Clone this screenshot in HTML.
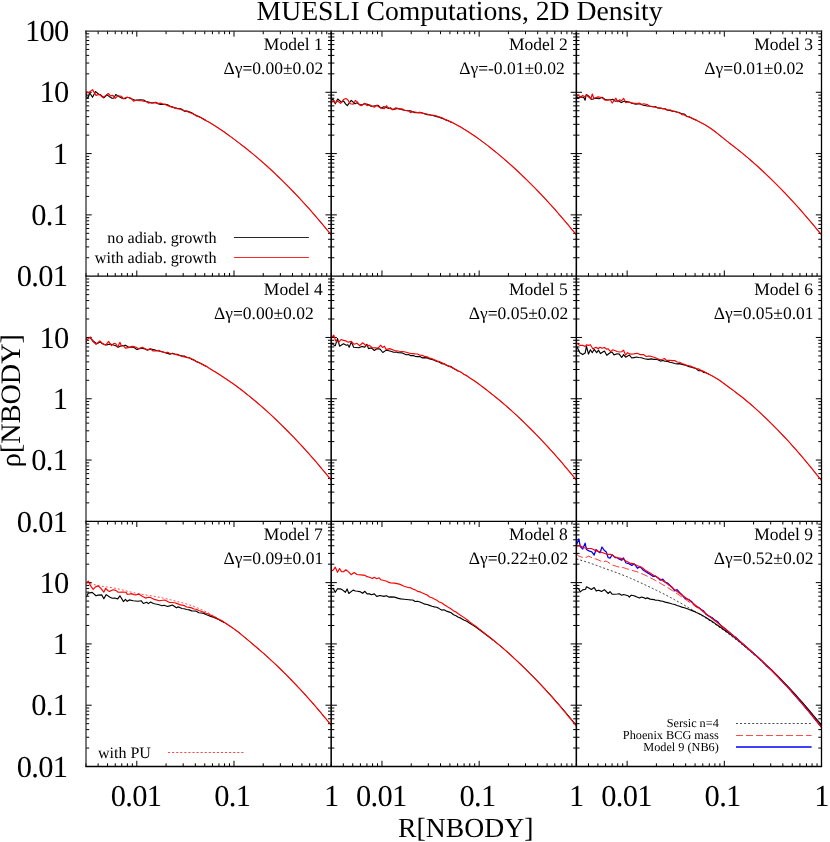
<!DOCTYPE html>
<html><head><meta charset="utf-8"><title>MUESLI Computations, 2D Density</title>
<style>html,body{margin:0;padding:0;background:#fff}body{width:830px;height:842px;overflow:hidden;font-family:"Liberation Serif",serif}svg{display:block;will-change:transform}text{text-rendering:geometricPrecision}</style></head>
<body>
<svg width="830" height="842" viewBox="0 0 830 842">
<rect width="830" height="842" fill="#fff"/>
<defs>
<clipPath id="c0"><rect x="86" y="31" width="245.17" height="245.17"/></clipPath>
<clipPath id="c1"><rect x="331.17" y="31" width="245.17" height="245.17"/></clipPath>
<clipPath id="c2"><rect x="576.33" y="31" width="245.17" height="245.17"/></clipPath>
<clipPath id="c3"><rect x="86" y="276.17" width="245.17" height="245.17"/></clipPath>
<clipPath id="c4"><rect x="331.17" y="276.17" width="245.17" height="245.17"/></clipPath>
<clipPath id="c5"><rect x="576.33" y="276.17" width="245.17" height="245.17"/></clipPath>
<clipPath id="c6"><rect x="86" y="521.33" width="245.17" height="245.17"/></clipPath>
<clipPath id="c7"><rect x="331.17" y="521.33" width="245.17" height="245.17"/></clipPath>
<clipPath id="c8"><rect x="576.33" y="521.33" width="245.17" height="245.17"/></clipPath>
</defs>
<path d="M86 276.17L86 272.97M86 31L86 34.2M98.14 276.17L98.14 272.97M98.14 31L98.14 34.2M107.56 276.17L107.56 272.97M107.56 31L107.56 34.2M115.25 276.17L115.25 272.97M115.25 31L115.25 34.2M121.76 276.17L121.76 272.97M121.76 31L121.76 34.2M127.39 276.17L127.39 272.97M127.39 31L127.39 34.2M132.37 276.17L132.37 272.97M132.37 31L132.37 34.2M136.81 276.17L136.81 270.47M136.81 31L136.81 36.7M166.07 276.17L166.07 272.97M166.07 31L166.07 34.2M183.18 276.17L183.18 272.97M183.18 31L183.18 34.2M195.32 276.17L195.32 272.97M195.32 31L195.32 34.2M204.74 276.17L204.74 272.97M204.74 31L204.74 34.2M212.43 276.17L212.43 272.97M212.43 31L212.43 34.2M218.94 276.17L218.94 272.97M218.94 31L218.94 34.2M224.57 276.17L224.57 272.97M224.57 31L224.57 34.2M229.54 276.17L229.54 272.97M229.54 31L229.54 34.2M233.99 276.17L233.99 270.47M233.99 31L233.99 36.7M263.24 276.17L263.24 272.97M263.24 31L263.24 34.2M280.35 276.17L280.35 272.97M280.35 31L280.35 34.2M292.5 276.17L292.5 272.97M292.5 31L292.5 34.2M301.91 276.17L301.91 272.97M301.91 31L301.91 34.2M309.61 276.17L309.61 272.97M309.61 31L309.61 34.2M316.11 276.17L316.11 272.97M316.11 31L316.11 34.2M321.75 276.17L321.75 272.97M321.75 31L321.75 34.2M326.72 276.17L326.72 272.97M326.72 31L326.72 34.2M86 257.72L89.2 257.72M331.17 257.72L327.97 257.72M86 246.92L89.2 246.92M331.17 246.92L327.97 246.92M86 239.27L89.2 239.27M331.17 239.27L327.97 239.27M86 233.33L89.2 233.33M331.17 233.33L327.97 233.33M86 228.47L89.2 228.47M331.17 228.47L327.97 228.47M86 224.37L89.2 224.37M331.17 224.37L327.97 224.37M86 220.81L89.2 220.81M331.17 220.81L327.97 220.81M86 217.68L89.2 217.68M331.17 217.68L327.97 217.68M86 214.88L91.7 214.88M331.17 214.88L325.47 214.88M86 196.42L89.2 196.42M331.17 196.42L327.97 196.42M86 185.63L89.2 185.63M331.17 185.63L327.97 185.63M86 177.97L89.2 177.97M331.17 177.97L327.97 177.97M86 172.03L89.2 172.03M331.17 172.03L327.97 172.03M86 167.18L89.2 167.18M331.17 167.18L327.97 167.18M86 163.08L89.2 163.08M331.17 163.08L327.97 163.08M86 159.52L89.2 159.52M331.17 159.52L327.97 159.52M86 156.39L89.2 156.39M331.17 156.39L327.97 156.39M86 153.58L91.7 153.58M331.17 153.58L325.47 153.58M86 135.13L89.2 135.13M331.17 135.13L327.97 135.13M86 124.34L89.2 124.34M331.17 124.34L327.97 124.34M86 116.68L89.2 116.68M331.17 116.68L327.97 116.68M86 110.74L89.2 110.74M331.17 110.74L327.97 110.74M86 105.89L89.2 105.89M331.17 105.89L327.97 105.89M86 101.79L89.2 101.79M331.17 101.79L327.97 101.79M86 98.23L89.2 98.23M331.17 98.23L327.97 98.23M86 95.1L89.2 95.1M331.17 95.1L327.97 95.1M86 92.29L91.7 92.29M331.17 92.29L325.47 92.29M86 73.84L89.2 73.84M331.17 73.84L327.97 73.84M86 63.05L89.2 63.05M331.17 63.05L327.97 63.05M86 55.39L89.2 55.39M331.17 55.39L327.97 55.39M86 49.45L89.2 49.45M331.17 49.45L327.97 49.45M86 44.6L89.2 44.6M331.17 44.6L327.97 44.6M86 40.49L89.2 40.49M331.17 40.49L327.97 40.49M86 36.94L89.2 36.94M331.17 36.94L327.97 36.94M86 33.8L89.2 33.8M331.17 33.8L327.97 33.8M331.17 276.17L331.17 272.97M331.17 31L331.17 34.2M343.31 276.17L343.31 272.97M343.31 31L343.31 34.2M352.73 276.17L352.73 272.97M352.73 31L352.73 34.2M360.42 276.17L360.42 272.97M360.42 31L360.42 34.2M366.93 276.17L366.93 272.97M366.93 31L366.93 34.2M372.56 276.17L372.56 272.97M372.56 31L372.56 34.2M377.53 276.17L377.53 272.97M377.53 31L377.53 34.2M381.98 276.17L381.98 270.47M381.98 31L381.98 36.7M411.23 276.17L411.23 272.97M411.23 31L411.23 34.2M428.34 276.17L428.34 272.97M428.34 31L428.34 34.2M440.49 276.17L440.49 272.97M440.49 31L440.49 34.2M449.9 276.17L449.9 272.97M449.9 31L449.9 34.2M457.6 276.17L457.6 272.97M457.6 31L457.6 34.2M464.1 276.17L464.1 272.97M464.1 31L464.1 34.2M469.74 276.17L469.74 272.97M469.74 31L469.74 34.2M474.71 276.17L474.71 272.97M474.71 31L474.71 34.2M479.16 276.17L479.16 270.47M479.16 31L479.16 36.7M508.41 276.17L508.41 272.97M508.41 31L508.41 34.2M525.52 276.17L525.52 272.97M525.52 31L525.52 34.2M537.66 276.17L537.66 272.97M537.66 31L537.66 34.2M547.08 276.17L547.08 272.97M547.08 31L547.08 34.2M554.77 276.17L554.77 272.97M554.77 31L554.77 34.2M561.28 276.17L561.28 272.97M561.28 31L561.28 34.2M566.92 276.17L566.92 272.97M566.92 31L566.92 34.2M571.89 276.17L571.89 272.97M571.89 31L571.89 34.2M331.17 257.72L334.37 257.72M576.33 257.72L573.13 257.72M331.17 246.92L334.37 246.92M576.33 246.92L573.13 246.92M331.17 239.27L334.37 239.27M576.33 239.27L573.13 239.27M331.17 233.33L334.37 233.33M576.33 233.33L573.13 233.33M331.17 228.47L334.37 228.47M576.33 228.47L573.13 228.47M331.17 224.37L334.37 224.37M576.33 224.37L573.13 224.37M331.17 220.81L334.37 220.81M576.33 220.81L573.13 220.81M331.17 217.68L334.37 217.68M576.33 217.68L573.13 217.68M331.17 214.88L336.87 214.88M576.33 214.88L570.63 214.88M331.17 196.42L334.37 196.42M576.33 196.42L573.13 196.42M331.17 185.63L334.37 185.63M576.33 185.63L573.13 185.63M331.17 177.97L334.37 177.97M576.33 177.97L573.13 177.97M331.17 172.03L334.37 172.03M576.33 172.03L573.13 172.03M331.17 167.18L334.37 167.18M576.33 167.18L573.13 167.18M331.17 163.08L334.37 163.08M576.33 163.08L573.13 163.08M331.17 159.52L334.37 159.52M576.33 159.52L573.13 159.52M331.17 156.39L334.37 156.39M576.33 156.39L573.13 156.39M331.17 153.58L336.87 153.58M576.33 153.58L570.63 153.58M331.17 135.13L334.37 135.13M576.33 135.13L573.13 135.13M331.17 124.34L334.37 124.34M576.33 124.34L573.13 124.34M331.17 116.68L334.37 116.68M576.33 116.68L573.13 116.68M331.17 110.74L334.37 110.74M576.33 110.74L573.13 110.74M331.17 105.89L334.37 105.89M576.33 105.89L573.13 105.89M331.17 101.79L334.37 101.79M576.33 101.79L573.13 101.79M331.17 98.23L334.37 98.23M576.33 98.23L573.13 98.23M331.17 95.1L334.37 95.1M576.33 95.1L573.13 95.1M331.17 92.29L336.87 92.29M576.33 92.29L570.63 92.29M331.17 73.84L334.37 73.84M576.33 73.84L573.13 73.84M331.17 63.05L334.37 63.05M576.33 63.05L573.13 63.05M331.17 55.39L334.37 55.39M576.33 55.39L573.13 55.39M331.17 49.45L334.37 49.45M576.33 49.45L573.13 49.45M331.17 44.6L334.37 44.6M576.33 44.6L573.13 44.6M331.17 40.49L334.37 40.49M576.33 40.49L573.13 40.49M331.17 36.94L334.37 36.94M576.33 36.94L573.13 36.94M331.17 33.8L334.37 33.8M576.33 33.8L573.13 33.8M576.33 276.17L576.33 272.97M576.33 31L576.33 34.2M588.47 276.17L588.47 272.97M588.47 31L588.47 34.2M597.89 276.17L597.89 272.97M597.89 31L597.89 34.2M605.59 276.17L605.59 272.97M605.59 31L605.59 34.2M612.09 276.17L612.09 272.97M612.09 31L612.09 34.2M617.73 276.17L617.73 272.97M617.73 31L617.73 34.2M622.7 276.17L622.7 272.97M622.7 31L622.7 34.2M627.15 276.17L627.15 270.47M627.15 31L627.15 36.7M656.4 276.17L656.4 272.97M656.4 31L656.4 34.2M673.51 276.17L673.51 272.97M673.51 31L673.51 34.2M685.65 276.17L685.65 272.97M685.65 31L685.65 34.2M695.07 276.17L695.07 272.97M695.07 31L695.07 34.2M702.76 276.17L702.76 272.97M702.76 31L702.76 34.2M709.27 276.17L709.27 272.97M709.27 31L709.27 34.2M714.91 276.17L714.91 272.97M714.91 31L714.91 34.2M719.88 276.17L719.88 272.97M719.88 31L719.88 34.2M724.32 276.17L724.32 270.47M724.32 31L724.32 36.7M753.58 276.17L753.58 272.97M753.58 31L753.58 34.2M770.69 276.17L770.69 272.97M770.69 31L770.69 34.2M782.83 276.17L782.83 272.97M782.83 31L782.83 34.2M792.25 276.17L792.25 272.97M792.25 31L792.25 34.2M799.94 276.17L799.94 272.97M799.94 31L799.94 34.2M806.45 276.17L806.45 272.97M806.45 31L806.45 34.2M812.08 276.17L812.08 272.97M812.08 31L812.08 34.2M817.05 276.17L817.05 272.97M817.05 31L817.05 34.2M576.33 257.72L579.53 257.72M821.5 257.72L818.3 257.72M576.33 246.92L579.53 246.92M821.5 246.92L818.3 246.92M576.33 239.27L579.53 239.27M821.5 239.27L818.3 239.27M576.33 233.33L579.53 233.33M821.5 233.33L818.3 233.33M576.33 228.47L579.53 228.47M821.5 228.47L818.3 228.47M576.33 224.37L579.53 224.37M821.5 224.37L818.3 224.37M576.33 220.81L579.53 220.81M821.5 220.81L818.3 220.81M576.33 217.68L579.53 217.68M821.5 217.68L818.3 217.68M576.33 214.88L582.03 214.88M821.5 214.88L815.8 214.88M576.33 196.42L579.53 196.42M821.5 196.42L818.3 196.42M576.33 185.63L579.53 185.63M821.5 185.63L818.3 185.63M576.33 177.97L579.53 177.97M821.5 177.97L818.3 177.97M576.33 172.03L579.53 172.03M821.5 172.03L818.3 172.03M576.33 167.18L579.53 167.18M821.5 167.18L818.3 167.18M576.33 163.08L579.53 163.08M821.5 163.08L818.3 163.08M576.33 159.52L579.53 159.52M821.5 159.52L818.3 159.52M576.33 156.39L579.53 156.39M821.5 156.39L818.3 156.39M576.33 153.58L582.03 153.58M821.5 153.58L815.8 153.58M576.33 135.13L579.53 135.13M821.5 135.13L818.3 135.13M576.33 124.34L579.53 124.34M821.5 124.34L818.3 124.34M576.33 116.68L579.53 116.68M821.5 116.68L818.3 116.68M576.33 110.74L579.53 110.74M821.5 110.74L818.3 110.74M576.33 105.89L579.53 105.89M821.5 105.89L818.3 105.89M576.33 101.79L579.53 101.79M821.5 101.79L818.3 101.79M576.33 98.23L579.53 98.23M821.5 98.23L818.3 98.23M576.33 95.1L579.53 95.1M821.5 95.1L818.3 95.1M576.33 92.29L582.03 92.29M821.5 92.29L815.8 92.29M576.33 73.84L579.53 73.84M821.5 73.84L818.3 73.84M576.33 63.05L579.53 63.05M821.5 63.05L818.3 63.05M576.33 55.39L579.53 55.39M821.5 55.39L818.3 55.39M576.33 49.45L579.53 49.45M821.5 49.45L818.3 49.45M576.33 44.6L579.53 44.6M821.5 44.6L818.3 44.6M576.33 40.49L579.53 40.49M821.5 40.49L818.3 40.49M576.33 36.94L579.53 36.94M821.5 36.94L818.3 36.94M576.33 33.8L579.53 33.8M821.5 33.8L818.3 33.8M86 502.88L89.2 502.88M331.17 502.88L327.97 502.88M86 492.09L89.2 492.09M331.17 492.09L327.97 492.09M86 484.43L89.2 484.43M331.17 484.43L327.97 484.43M86 478.49L89.2 478.49M331.17 478.49L327.97 478.49M86 473.64L89.2 473.64M331.17 473.64L327.97 473.64M86 469.54L89.2 469.54M331.17 469.54L327.97 469.54M86 465.98L89.2 465.98M331.17 465.98L327.97 465.98M86 462.85L89.2 462.85M331.17 462.85L327.97 462.85M86 460.04L91.7 460.04M331.17 460.04L325.47 460.04M86 441.59L89.2 441.59M331.17 441.59L327.97 441.59M86 430.8L89.2 430.8M331.17 430.8L327.97 430.8M86 423.14L89.2 423.14M331.17 423.14L327.97 423.14M86 417.2L89.2 417.2M331.17 417.2L327.97 417.2M86 412.35L89.2 412.35M331.17 412.35L327.97 412.35M86 408.24L89.2 408.24M331.17 408.24L327.97 408.24M86 404.69L89.2 404.69M331.17 404.69L327.97 404.69M86 401.55L89.2 401.55M331.17 401.55L327.97 401.55M86 398.75L91.7 398.75M331.17 398.75L325.47 398.75M86 380.3L89.2 380.3M331.17 380.3L327.97 380.3M86 369.51L89.2 369.51M331.17 369.51L327.97 369.51M86 361.85L89.2 361.85M331.17 361.85L327.97 361.85M86 355.91L89.2 355.91M331.17 355.91L327.97 355.91M86 351.06L89.2 351.06M331.17 351.06L327.97 351.06M86 346.95L89.2 346.95M331.17 346.95L327.97 346.95M86 343.4L89.2 343.4M331.17 343.4L327.97 343.4M86 340.26L89.2 340.26M331.17 340.26L327.97 340.26M86 337.46L91.7 337.46M331.17 337.46L325.47 337.46M86 319.01L89.2 319.01M331.17 319.01L327.97 319.01M86 308.21L89.2 308.21M331.17 308.21L327.97 308.21M86 300.56L89.2 300.56M331.17 300.56L327.97 300.56M86 294.62L89.2 294.62M331.17 294.62L327.97 294.62M86 289.76L89.2 289.76M331.17 289.76L327.97 289.76M86 285.66L89.2 285.66M331.17 285.66L327.97 285.66M86 282.11L89.2 282.11M331.17 282.11L327.97 282.11M86 278.97L89.2 278.97M331.17 278.97L327.97 278.97M331.17 502.88L334.37 502.88M576.33 502.88L573.13 502.88M331.17 492.09L334.37 492.09M576.33 492.09L573.13 492.09M331.17 484.43L334.37 484.43M576.33 484.43L573.13 484.43M331.17 478.49L334.37 478.49M576.33 478.49L573.13 478.49M331.17 473.64L334.37 473.64M576.33 473.64L573.13 473.64M331.17 469.54L334.37 469.54M576.33 469.54L573.13 469.54M331.17 465.98L334.37 465.98M576.33 465.98L573.13 465.98M331.17 462.85L334.37 462.85M576.33 462.85L573.13 462.85M331.17 460.04L336.87 460.04M576.33 460.04L570.63 460.04M331.17 441.59L334.37 441.59M576.33 441.59L573.13 441.59M331.17 430.8L334.37 430.8M576.33 430.8L573.13 430.8M331.17 423.14L334.37 423.14M576.33 423.14L573.13 423.14M331.17 417.2L334.37 417.2M576.33 417.2L573.13 417.2M331.17 412.35L334.37 412.35M576.33 412.35L573.13 412.35M331.17 408.24L334.37 408.24M576.33 408.24L573.13 408.24M331.17 404.69L334.37 404.69M576.33 404.69L573.13 404.69M331.17 401.55L334.37 401.55M576.33 401.55L573.13 401.55M331.17 398.75L336.87 398.75M576.33 398.75L570.63 398.75M331.17 380.3L334.37 380.3M576.33 380.3L573.13 380.3M331.17 369.51L334.37 369.51M576.33 369.51L573.13 369.51M331.17 361.85L334.37 361.85M576.33 361.85L573.13 361.85M331.17 355.91L334.37 355.91M576.33 355.91L573.13 355.91M331.17 351.06L334.37 351.06M576.33 351.06L573.13 351.06M331.17 346.95L334.37 346.95M576.33 346.95L573.13 346.95M331.17 343.4L334.37 343.4M576.33 343.4L573.13 343.4M331.17 340.26L334.37 340.26M576.33 340.26L573.13 340.26M331.17 337.46L336.87 337.46M576.33 337.46L570.63 337.46M331.17 319.01L334.37 319.01M576.33 319.01L573.13 319.01M331.17 308.21L334.37 308.21M576.33 308.21L573.13 308.21M331.17 300.56L334.37 300.56M576.33 300.56L573.13 300.56M331.17 294.62L334.37 294.62M576.33 294.62L573.13 294.62M331.17 289.76L334.37 289.76M576.33 289.76L573.13 289.76M331.17 285.66L334.37 285.66M576.33 285.66L573.13 285.66M331.17 282.11L334.37 282.11M576.33 282.11L573.13 282.11M331.17 278.97L334.37 278.97M576.33 278.97L573.13 278.97M576.33 502.88L579.53 502.88M821.5 502.88L818.3 502.88M576.33 492.09L579.53 492.09M821.5 492.09L818.3 492.09M576.33 484.43L579.53 484.43M821.5 484.43L818.3 484.43M576.33 478.49L579.53 478.49M821.5 478.49L818.3 478.49M576.33 473.64L579.53 473.64M821.5 473.64L818.3 473.64M576.33 469.54L579.53 469.54M821.5 469.54L818.3 469.54M576.33 465.98L579.53 465.98M821.5 465.98L818.3 465.98M576.33 462.85L579.53 462.85M821.5 462.85L818.3 462.85M576.33 460.04L582.03 460.04M821.5 460.04L815.8 460.04M576.33 441.59L579.53 441.59M821.5 441.59L818.3 441.59M576.33 430.8L579.53 430.8M821.5 430.8L818.3 430.8M576.33 423.14L579.53 423.14M821.5 423.14L818.3 423.14M576.33 417.2L579.53 417.2M821.5 417.2L818.3 417.2M576.33 412.35L579.53 412.35M821.5 412.35L818.3 412.35M576.33 408.24L579.53 408.24M821.5 408.24L818.3 408.24M576.33 404.69L579.53 404.69M821.5 404.69L818.3 404.69M576.33 401.55L579.53 401.55M821.5 401.55L818.3 401.55M576.33 398.75L582.03 398.75M821.5 398.75L815.8 398.75M576.33 380.3L579.53 380.3M821.5 380.3L818.3 380.3M576.33 369.51L579.53 369.51M821.5 369.51L818.3 369.51M576.33 361.85L579.53 361.85M821.5 361.85L818.3 361.85M576.33 355.91L579.53 355.91M821.5 355.91L818.3 355.91M576.33 351.06L579.53 351.06M821.5 351.06L818.3 351.06M576.33 346.95L579.53 346.95M821.5 346.95L818.3 346.95M576.33 343.4L579.53 343.4M821.5 343.4L818.3 343.4M576.33 340.26L579.53 340.26M821.5 340.26L818.3 340.26M576.33 337.46L582.03 337.46M821.5 337.46L815.8 337.46M576.33 319.01L579.53 319.01M821.5 319.01L818.3 319.01M576.33 308.21L579.53 308.21M821.5 308.21L818.3 308.21M576.33 300.56L579.53 300.56M821.5 300.56L818.3 300.56M576.33 294.62L579.53 294.62M821.5 294.62L818.3 294.62M576.33 289.76L579.53 289.76M821.5 289.76L818.3 289.76M576.33 285.66L579.53 285.66M821.5 285.66L818.3 285.66M576.33 282.11L579.53 282.11M821.5 282.11L818.3 282.11M576.33 278.97L579.53 278.97M821.5 278.97L818.3 278.97M86 766.5L86 763.3M86 521.33L86 524.53M98.14 766.5L98.14 763.3M98.14 521.33L98.14 524.53M107.56 766.5L107.56 763.3M107.56 521.33L107.56 524.53M115.25 766.5L115.25 763.3M115.25 521.33L115.25 524.53M121.76 766.5L121.76 763.3M121.76 521.33L121.76 524.53M127.39 766.5L127.39 763.3M127.39 521.33L127.39 524.53M132.37 766.5L132.37 763.3M132.37 521.33L132.37 524.53M136.81 766.5L136.81 760.8M136.81 521.33L136.81 527.03M166.07 766.5L166.07 763.3M166.07 521.33L166.07 524.53M183.18 766.5L183.18 763.3M183.18 521.33L183.18 524.53M195.32 766.5L195.32 763.3M195.32 521.33L195.32 524.53M204.74 766.5L204.74 763.3M204.74 521.33L204.74 524.53M212.43 766.5L212.43 763.3M212.43 521.33L212.43 524.53M218.94 766.5L218.94 763.3M218.94 521.33L218.94 524.53M224.57 766.5L224.57 763.3M224.57 521.33L224.57 524.53M229.54 766.5L229.54 763.3M229.54 521.33L229.54 524.53M233.99 766.5L233.99 760.8M233.99 521.33L233.99 527.03M263.24 766.5L263.24 763.3M263.24 521.33L263.24 524.53M280.35 766.5L280.35 763.3M280.35 521.33L280.35 524.53M292.5 766.5L292.5 763.3M292.5 521.33L292.5 524.53M301.91 766.5L301.91 763.3M301.91 521.33L301.91 524.53M309.61 766.5L309.61 763.3M309.61 521.33L309.61 524.53M316.11 766.5L316.11 763.3M316.11 521.33L316.11 524.53M321.75 766.5L321.75 763.3M321.75 521.33L321.75 524.53M326.72 766.5L326.72 763.3M326.72 521.33L326.72 524.53M86 748.05L89.2 748.05M331.17 748.05L327.97 748.05M86 737.26L89.2 737.26M331.17 737.26L327.97 737.26M86 729.6L89.2 729.6M331.17 729.6L327.97 729.6M86 723.66L89.2 723.66M331.17 723.66L327.97 723.66M86 718.81L89.2 718.81M331.17 718.81L327.97 718.81M86 714.7L89.2 714.7M331.17 714.7L327.97 714.7M86 711.15L89.2 711.15M331.17 711.15L327.97 711.15M86 708.01L89.2 708.01M331.17 708.01L327.97 708.01M86 705.21L91.7 705.21M331.17 705.21L325.47 705.21M86 686.76L89.2 686.76M331.17 686.76L327.97 686.76M86 675.96L89.2 675.96M331.17 675.96L327.97 675.96M86 668.31L89.2 668.31M331.17 668.31L327.97 668.31M86 662.37L89.2 662.37M331.17 662.37L327.97 662.37M86 657.51L89.2 657.51M331.17 657.51L327.97 657.51M86 653.41L89.2 653.41M331.17 653.41L327.97 653.41M86 649.86L89.2 649.86M331.17 649.86L327.97 649.86M86 646.72L89.2 646.72M331.17 646.72L327.97 646.72M86 643.92L91.7 643.92M331.17 643.92L325.47 643.92M86 625.47L89.2 625.47M331.17 625.47L327.97 625.47M86 614.67L89.2 614.67M331.17 614.67L327.97 614.67M86 607.02L89.2 607.02M331.17 607.02L327.97 607.02M86 601.08L89.2 601.08M331.17 601.08L327.97 601.08M86 596.22L89.2 596.22M331.17 596.22L327.97 596.22M86 592.12L89.2 592.12M331.17 592.12L327.97 592.12M86 588.56L89.2 588.56M331.17 588.56L327.97 588.56M86 585.43L89.2 585.43M331.17 585.43L327.97 585.43M86 582.62L91.7 582.62M331.17 582.62L325.47 582.62M86 564.17L89.2 564.17M331.17 564.17L327.97 564.17M86 553.38L89.2 553.38M331.17 553.38L327.97 553.38M86 545.72L89.2 545.72M331.17 545.72L327.97 545.72M86 539.78L89.2 539.78M331.17 539.78L327.97 539.78M86 534.93L89.2 534.93M331.17 534.93L327.97 534.93M86 530.83L89.2 530.83M331.17 530.83L327.97 530.83M86 527.27L89.2 527.27M331.17 527.27L327.97 527.27M86 524.14L89.2 524.14M331.17 524.14L327.97 524.14M331.17 766.5L331.17 763.3M331.17 521.33L331.17 524.53M343.31 766.5L343.31 763.3M343.31 521.33L343.31 524.53M352.73 766.5L352.73 763.3M352.73 521.33L352.73 524.53M360.42 766.5L360.42 763.3M360.42 521.33L360.42 524.53M366.93 766.5L366.93 763.3M366.93 521.33L366.93 524.53M372.56 766.5L372.56 763.3M372.56 521.33L372.56 524.53M377.53 766.5L377.53 763.3M377.53 521.33L377.53 524.53M381.98 766.5L381.98 760.8M381.98 521.33L381.98 527.03M411.23 766.5L411.23 763.3M411.23 521.33L411.23 524.53M428.34 766.5L428.34 763.3M428.34 521.33L428.34 524.53M440.49 766.5L440.49 763.3M440.49 521.33L440.49 524.53M449.9 766.5L449.9 763.3M449.9 521.33L449.9 524.53M457.6 766.5L457.6 763.3M457.6 521.33L457.6 524.53M464.1 766.5L464.1 763.3M464.1 521.33L464.1 524.53M469.74 766.5L469.74 763.3M469.74 521.33L469.74 524.53M474.71 766.5L474.71 763.3M474.71 521.33L474.71 524.53M479.16 766.5L479.16 760.8M479.16 521.33L479.16 527.03M508.41 766.5L508.41 763.3M508.41 521.33L508.41 524.53M525.52 766.5L525.52 763.3M525.52 521.33L525.52 524.53M537.66 766.5L537.66 763.3M537.66 521.33L537.66 524.53M547.08 766.5L547.08 763.3M547.08 521.33L547.08 524.53M554.77 766.5L554.77 763.3M554.77 521.33L554.77 524.53M561.28 766.5L561.28 763.3M561.28 521.33L561.28 524.53M566.92 766.5L566.92 763.3M566.92 521.33L566.92 524.53M571.89 766.5L571.89 763.3M571.89 521.33L571.89 524.53M331.17 748.05L334.37 748.05M576.33 748.05L573.13 748.05M331.17 737.26L334.37 737.26M576.33 737.26L573.13 737.26M331.17 729.6L334.37 729.6M576.33 729.6L573.13 729.6M331.17 723.66L334.37 723.66M576.33 723.66L573.13 723.66M331.17 718.81L334.37 718.81M576.33 718.81L573.13 718.81M331.17 714.7L334.37 714.7M576.33 714.7L573.13 714.7M331.17 711.15L334.37 711.15M576.33 711.15L573.13 711.15M331.17 708.01L334.37 708.01M576.33 708.01L573.13 708.01M331.17 705.21L336.87 705.21M576.33 705.21L570.63 705.21M331.17 686.76L334.37 686.76M576.33 686.76L573.13 686.76M331.17 675.96L334.37 675.96M576.33 675.96L573.13 675.96M331.17 668.31L334.37 668.31M576.33 668.31L573.13 668.31M331.17 662.37L334.37 662.37M576.33 662.37L573.13 662.37M331.17 657.51L334.37 657.51M576.33 657.51L573.13 657.51M331.17 653.41L334.37 653.41M576.33 653.41L573.13 653.41M331.17 649.86L334.37 649.86M576.33 649.86L573.13 649.86M331.17 646.72L334.37 646.72M576.33 646.72L573.13 646.72M331.17 643.92L336.87 643.92M576.33 643.92L570.63 643.92M331.17 625.47L334.37 625.47M576.33 625.47L573.13 625.47M331.17 614.67L334.37 614.67M576.33 614.67L573.13 614.67M331.17 607.02L334.37 607.02M576.33 607.02L573.13 607.02M331.17 601.08L334.37 601.08M576.33 601.08L573.13 601.08M331.17 596.22L334.37 596.22M576.33 596.22L573.13 596.22M331.17 592.12L334.37 592.12M576.33 592.12L573.13 592.12M331.17 588.56L334.37 588.56M576.33 588.56L573.13 588.56M331.17 585.43L334.37 585.43M576.33 585.43L573.13 585.43M331.17 582.62L336.87 582.62M576.33 582.62L570.63 582.62M331.17 564.17L334.37 564.17M576.33 564.17L573.13 564.17M331.17 553.38L334.37 553.38M576.33 553.38L573.13 553.38M331.17 545.72L334.37 545.72M576.33 545.72L573.13 545.72M331.17 539.78L334.37 539.78M576.33 539.78L573.13 539.78M331.17 534.93L334.37 534.93M576.33 534.93L573.13 534.93M331.17 530.83L334.37 530.83M576.33 530.83L573.13 530.83M331.17 527.27L334.37 527.27M576.33 527.27L573.13 527.27M331.17 524.14L334.37 524.14M576.33 524.14L573.13 524.14M576.33 766.5L576.33 763.3M576.33 521.33L576.33 524.53M588.47 766.5L588.47 763.3M588.47 521.33L588.47 524.53M597.89 766.5L597.89 763.3M597.89 521.33L597.89 524.53M605.59 766.5L605.59 763.3M605.59 521.33L605.59 524.53M612.09 766.5L612.09 763.3M612.09 521.33L612.09 524.53M617.73 766.5L617.73 763.3M617.73 521.33L617.73 524.53M622.7 766.5L622.7 763.3M622.7 521.33L622.7 524.53M627.15 766.5L627.15 760.8M627.15 521.33L627.15 527.03M656.4 766.5L656.4 763.3M656.4 521.33L656.4 524.53M673.51 766.5L673.51 763.3M673.51 521.33L673.51 524.53M685.65 766.5L685.65 763.3M685.65 521.33L685.65 524.53M695.07 766.5L695.07 763.3M695.07 521.33L695.07 524.53M702.76 766.5L702.76 763.3M702.76 521.33L702.76 524.53M709.27 766.5L709.27 763.3M709.27 521.33L709.27 524.53M714.91 766.5L714.91 763.3M714.91 521.33L714.91 524.53M719.88 766.5L719.88 763.3M719.88 521.33L719.88 524.53M724.32 766.5L724.32 760.8M724.32 521.33L724.32 527.03M753.58 766.5L753.58 763.3M753.58 521.33L753.58 524.53M770.69 766.5L770.69 763.3M770.69 521.33L770.69 524.53M782.83 766.5L782.83 763.3M782.83 521.33L782.83 524.53M792.25 766.5L792.25 763.3M792.25 521.33L792.25 524.53M799.94 766.5L799.94 763.3M799.94 521.33L799.94 524.53M806.45 766.5L806.45 763.3M806.45 521.33L806.45 524.53M812.08 766.5L812.08 763.3M812.08 521.33L812.08 524.53M817.05 766.5L817.05 763.3M817.05 521.33L817.05 524.53M576.33 748.05L579.53 748.05M821.5 748.05L818.3 748.05M576.33 737.26L579.53 737.26M821.5 737.26L818.3 737.26M576.33 729.6L579.53 729.6M821.5 729.6L818.3 729.6M576.33 723.66L579.53 723.66M821.5 723.66L818.3 723.66M576.33 718.81L579.53 718.81M821.5 718.81L818.3 718.81M576.33 714.7L579.53 714.7M821.5 714.7L818.3 714.7M576.33 711.15L579.53 711.15M821.5 711.15L818.3 711.15M576.33 708.01L579.53 708.01M821.5 708.01L818.3 708.01M576.33 705.21L582.03 705.21M821.5 705.21L815.8 705.21M576.33 686.76L579.53 686.76M821.5 686.76L818.3 686.76M576.33 675.96L579.53 675.96M821.5 675.96L818.3 675.96M576.33 668.31L579.53 668.31M821.5 668.31L818.3 668.31M576.33 662.37L579.53 662.37M821.5 662.37L818.3 662.37M576.33 657.51L579.53 657.51M821.5 657.51L818.3 657.51M576.33 653.41L579.53 653.41M821.5 653.41L818.3 653.41M576.33 649.86L579.53 649.86M821.5 649.86L818.3 649.86M576.33 646.72L579.53 646.72M821.5 646.72L818.3 646.72M576.33 643.92L582.03 643.92M821.5 643.92L815.8 643.92M576.33 625.47L579.53 625.47M821.5 625.47L818.3 625.47M576.33 614.67L579.53 614.67M821.5 614.67L818.3 614.67M576.33 607.02L579.53 607.02M821.5 607.02L818.3 607.02M576.33 601.08L579.53 601.08M821.5 601.08L818.3 601.08M576.33 596.22L579.53 596.22M821.5 596.22L818.3 596.22M576.33 592.12L579.53 592.12M821.5 592.12L818.3 592.12M576.33 588.56L579.53 588.56M821.5 588.56L818.3 588.56M576.33 585.43L579.53 585.43M821.5 585.43L818.3 585.43M576.33 582.62L582.03 582.62M821.5 582.62L815.8 582.62M576.33 564.17L579.53 564.17M821.5 564.17L818.3 564.17M576.33 553.38L579.53 553.38M821.5 553.38L818.3 553.38M576.33 545.72L579.53 545.72M821.5 545.72L818.3 545.72M576.33 539.78L579.53 539.78M821.5 539.78L818.3 539.78M576.33 534.93L579.53 534.93M821.5 534.93L818.3 534.93M576.33 530.83L579.53 530.83M821.5 530.83L818.3 530.83M576.33 527.27L579.53 527.27M821.5 527.27L818.3 527.27M576.33 524.14L579.53 524.14M821.5 524.14L818.3 524.14" stroke="#000" stroke-width="1" fill="none"/>
<g clip-path="url(#c0)">
<path d="M86.1 91.6L86.9 98.3L88 97.8L89.8 93L92.5 97.3L95.6 91.6L98.5 94L100.4 94.76L103.8 97.8L107.1 94.9L110 97.09L112 98.3L113.9 98.1L115.8 94.5L119.7 96.9L122 98.21L125 98.8L127.4 97.3L129.2 97.75L131.2 98.8L135.1 100.2L139.9 99.8L143.6 100.02L145.7 101.2L148.4 101.95L151.5 102.9L153.2 102.91L155.3 102.4L158.2 103.6L160.4 104.45L164 104.4L165.2 104.2L167.6 104.84L170 106.33L172.4 106.86L174.8 107.93L177.2 108.37L179.6 108.65L182 109.35L184.4 111.26L186.8 111.09L189.2 111.88L191.6 112.79L194 114.31L196.4 115.45L198.8 116.51L201.2 117.8L203.6 119.14L206 120.53" fill="none" stroke="#000" stroke-width="1.15" stroke-linejoin="round"/>
<path d="M206 120.53L208.4 121.95L210.8 123.25L213.2 124.52L215.6 126.28L218.6 128.06L221.6 130.17L224.6 132.19L227.6 134.42L230.6 136.58L233.6 138.85L236.6 141.2L239.6 143.38L242.6 145.71L245.6 148.02L248.6 150.43L251.6 152.88L254.6 155.35L257.6 157.89L260.6 160.46L263.6 163.08L266.6 165.77L269.6 168.48L272.6 171.27L275.6 174.09L278.6 176.97L281.6 179.89L284.6 182.86L287.6 185.86L290.6 188.92L293.6 192.01L296.6 195.16L299.6 198.35L302.6 201.59L305.6 204.88L308.6 208.22L311.6 211.61L314.6 215.06L317.6 218.55L320.6 222.09L323.6 225.68L326.6 229.29L329.6 232.9L331.3 234.95" fill="none" stroke="#000" stroke-width="0.55" stroke-linejoin="round"/>
<path d="M86.1 91.1L88.3 93L92.5 89.6L96 95.4L98.5 94.5L100.4 95.11L102.8 97.5L105.2 95.87L108.3 93.5L110.5 95.9L112.9 95.4L115.3 98.3L117.7 95.9L119.6 96L121.6 96.4L123.5 98.8L126.4 97.3L129.2 97.64L131.2 98.3L133.6 101.2L136.5 100L138.8 100.78L141.8 100.7L143.6 101.14L146 101.52L148.4 103.11L150.5 102.7L153.2 102.76L155.6 102.65L158.2 103.6L160.4 103.17L164 104.3L165.2 104.42L167.6 105.62L170 106.35L172.4 107.1L174.8 108.03L177.2 108.64L179.6 108.93L182 109.97L184.4 110.54L186.8 110.99L189.2 112.48L191.6 113.23L194 114.23L196.4 115.97L198.8 116.79L201.2 117.73L203.6 119.09L206 120.79L208.4 121.77L210.8 123.32L213.2 124.77L215.6 126.27L218.6 128.22L221.6 130.16L224.6 132.25L227.6 134.41L230.6 136.6L233.6 138.88L236.6 141.15L239.6 143.36L242.6 145.71L245.6 148.03L248.6 150.43L251.6 152.87L254.6 155.36L257.6 157.88L260.6 160.44L263.6 163.1L266.6 165.76L269.6 168.48L272.6 171.27L275.6 174.09L278.6 176.96L281.6 179.89L284.6 182.86L287.6 185.86L290.6 188.92L293.6 192.02L296.6 195.16L299.6 198.35L302.6 201.59L305.6 204.88L308.6 208.22L311.6 211.61L314.6 215.06L317.6 218.55L320.6 222.1L323.6 225.68L326.6 229.29L329.6 232.9L331.3 234.95" fill="none" stroke="#f00" stroke-width="1.15" stroke-linejoin="round"/>
</g>
<g clip-path="url(#c1)">
<path d="M331.4 100.2L332.9 99L334.3 101.4L335.3 103.8L337.7 99L341.5 102.3L343.5 100.9L345.57 103.9L347.3 105.7L351.2 100.4L355 103.8L357 102.8L359.8 104.8L362.3 104.8L364.7 103.8L367.6 104.3L370.9 106.2L373.3 106L375.3 105.7L378.2 105.4L381 108.1L383.9 106.7L386.8 107.7L388.77 108.46L390.7 107.9L392.6 109.6L396.5 108.6L398.37 108.47L400.3 109.1L404.2 110.3L409 110.9L410.37 110.76L412.77 111.75L415.17 112.76L417.57 112.6L419.97 112.37L422.37 112.98L424.77 113.74L427.17 114.63L429.57 114.78L431.97 115.21L434.37 115.88L436.77 116.69L439.17 117.11L441.57 118.13L443.97 119.05L446.37 120.26L448.77 120.92L451.17 122.19" fill="none" stroke="#000" stroke-width="1.15" stroke-linejoin="round"/>
<path d="M451.17 122.19L453.57 123.07L455.97 124.57L458.37 125.81L460.77 127.13L463.77 128.98L466.77 130.91L469.77 132.76L472.77 134.82L475.77 136.88L478.77 138.98L481.77 141.16L484.77 143.32L487.77 145.67L490.77 148L493.77 150.43L496.77 152.87L499.77 155.36L502.77 157.89L505.77 160.46L508.77 163.09L511.77 165.76L514.77 168.5L517.77 171.26L520.77 174.09L523.77 176.96L526.77 179.88L529.77 182.85L532.77 185.87L535.77 188.92L538.77 192.02L541.77 195.16L544.77 198.35L547.77 201.59L550.77 204.88L553.77 208.22L556.77 211.61L559.77 215.05L562.77 218.55L565.77 222.09L568.77 225.68L571.77 229.29L574.77 232.9L576.47 234.95" fill="none" stroke="#000" stroke-width="0.55" stroke-linejoin="round"/>
<path d="M331.4 102.3L333.3 100.4L335.3 102.8L337.2 100.9L340.6 103.3L343.5 99.5L345.9 98.5L347.8 99.9L350.2 103.8L353.1 104.3L355.5 100.4L357.4 101.9L358.9 104.3L361.3 105.7L364.7 103.3L367.1 105.7L369.5 104.8L371.4 105.7L374.3 107.2L376.7 105.2L379.17 107.13L381 108.1L384.4 108.6L386.3 105.7L388.8 108.1L391.17 108.86L393.1 109.6L396 107.7L399.4 109.1L402.3 108.9L405.1 110.5L409 110.7L410.37 112.65L412.77 111.7L415.17 112L417.57 112.55L419.97 112.56L422.37 112.93L424.77 113.95L427.17 114.03L429.57 115.09L431.97 115.24L434.37 115.23L436.77 116.09L439.17 117.03L441.57 117.52L443.97 118.95L446.37 119.84L448.77 121.11L451.17 121.88L453.57 123.18L455.97 124.54L458.37 125.87L460.77 127.07L463.77 129.1L466.77 130.81L469.77 132.85L472.77 134.75L475.77 136.8L478.77 138.88L481.77 141.1L484.77 143.42L487.77 145.64L490.77 148.05L493.77 150.44L496.77 152.86L499.77 155.37L502.77 157.9L505.77 160.46L508.77 163.08L511.77 165.77L514.77 168.49L517.77 171.28L520.77 174.09L523.77 176.96L526.77 179.89L529.77 182.85L532.77 185.87L535.77 188.92L538.77 192.01L541.77 195.16L544.77 198.35L547.77 201.59L550.77 204.88L553.77 208.22L556.77 211.61L559.77 215.05L562.77 218.55L565.77 222.1L568.77 225.68L571.77 229.28L574.77 232.9L576.47 234.95" fill="none" stroke="#f00" stroke-width="1.15" stroke-linejoin="round"/>
</g>
<g clip-path="url(#c2)">
<path d="M576.4 95.9L577.9 98.3L579.8 96.9L583.6 97.3L585.1 100.2L586.3 94.5L588.5 95.9L591.3 99.3L593.13 99.07L595.2 98.3L599.1 98.8L602 97.3L604.8 99.3L607.7 100L610.6 99.8L612.6 99.3L615.4 101.2L618.3 100.7L621.2 102.6L624.1 101.2L628 101.7L631.8 103.1L633.93 103.66L635.7 104.1L639.5 103.6L643.4 105.2L647.3 106L651.1 106.2L654 107L655.53 106.65L657.93 107.98L660.33 108.11L662.73 108.59L665.13 109.01L667.53 110.17L669.93 110.48L672.33 111.26L674.73 111.34L677.13 112.05L679.53 112.67L681.93 113.89L684.33 113.97L686.73 116.41L689.13 116.96L691.53 118L693.93 119.24L696.33 120.13" fill="none" stroke="#000" stroke-width="1.15" stroke-linejoin="round"/>
<path d="M696.33 120.13L698.73 121.42L701.13 122.73L703.53 123.76L705.93 125.51L708.93 127.23L711.93 129.31L714.93 131.43L717.93 133.82L720.93 136.35L723.93 138.68L726.93 141.07L729.93 143.44L732.93 145.79L735.93 148.04L738.93 150.49L741.93 152.89L744.93 155.37L747.93 157.88L750.93 160.47L753.93 163.1L756.93 165.76L759.93 168.48L762.93 171.26L765.93 174.09L768.93 176.97L771.93 179.89L774.93 182.85L777.93 185.87L780.93 188.91L783.93 192.01L786.93 195.16L789.93 198.35L792.93 201.59L795.93 204.88L798.93 208.22L801.93 211.61L804.93 215.05L807.93 218.55L810.93 222.09L813.93 225.68L816.93 229.29L819.93 232.9L821.63 234.95" fill="none" stroke="#000" stroke-width="0.55" stroke-linejoin="round"/>
<path d="M576.4 95.4L578.3 95.2L580.3 97.3L582.7 95.4L584.6 96.9L586.5 94.9L588.33 96.83L590.9 98.8L592.3 94L593.8 98.3L595.53 97.9L598.1 96.9L600.33 97.2L602.9 98.3L605.13 100.19L607.7 100.2L610.1 99.3L612.1 103.1L614 100.7L615.9 98.1L617.4 101.7L619.8 99.8L621.7 100.7L623.6 98.3L625.6 102.6L628.9 102L632.8 103.1L636.7 103.6L639.5 103.1L641.5 104.6L643.53 103.8L647.3 104.6L650.1 106.5L654 106.8L655.53 107.05L657.93 107.87L660.33 108.19L662.73 108.65L665.13 108.45L667.53 110.25L669.93 109.76L672.33 110.7L674.73 111.45L677.13 112.23L679.53 112.87L681.93 114.59L684.33 114.95L686.73 116.21L689.13 116.52L691.53 118.11L693.93 119.02L696.33 120.27L698.73 121.41L701.13 122.68L703.53 123.93L705.93 125.34L708.93 127.23L711.93 129.28L714.93 131.5L717.93 133.83L720.93 136.3L723.93 138.67L726.93 141.15L729.93 143.45L732.93 145.79L735.93 148.09L738.93 150.44L741.93 152.86L744.93 155.35L747.93 157.88L750.93 160.46L753.93 163.08L756.93 165.77L759.93 168.47L762.93 171.27L765.93 174.09L768.93 176.97L771.93 179.88L774.93 182.86L777.93 185.86L780.93 188.92L783.93 192.02L786.93 195.16L789.93 198.35L792.93 201.59L795.93 204.88L798.93 208.22L801.93 211.61L804.93 215.05L807.93 218.55L810.93 222.09L813.93 225.68L816.93 229.28L819.93 232.9L821.63 234.95" fill="none" stroke="#f00" stroke-width="1.15" stroke-linejoin="round"/>
</g>
<g clip-path="url(#c3)">
<path d="M86.1 342.8L86.9 337.5L89.8 337.5L92.7 340.4L96.5 343.8L100.4 341.9L102.3 343.8L106.2 345L110 344.1L112.9 344.8L115.8 345.7L118.2 347.2L121.1 345.7L125.4 345.2L128.8 347.2L133.2 347L137 349.6L138.8 348.64L140.9 348.1L143.8 348.6L147.1 350.1L150.5 349.1L154.4 349.9L157.3 350.8L161.1 351.5L164 352.3L165.2 352.71L167.6 353.39L170 354.16L172.4 353.19L174.8 353.96L177.2 354.4L179.6 355.21L182 355.88L184.4 356.09L186.8 357.47L189.2 357.64L191.6 359.35L194 359.87L196.4 361.39L198.8 362.6L201.2 363.7L203.6 364.9L206 366.21" fill="none" stroke="#000" stroke-width="1.15" stroke-linejoin="round"/>
<path d="M206 366.21L208.4 367.54L210.8 369.32L213.2 370.64L215.6 372.25L218.6 374.02L221.6 375.98L224.6 377.92L227.6 379.96L230.6 381.96L233.6 384.16L236.6 386.31L239.6 388.56L242.6 390.86L245.6 393.16L248.6 395.54L251.6 398.04L254.6 400.52L257.6 403.04L260.6 405.62L263.6 408.26L266.6 410.94L269.6 413.66L272.6 416.43L275.6 419.26L278.6 422.14L281.6 425.05L284.6 428.02L287.6 431.03L290.6 434.08L293.6 437.18L296.6 440.33L299.6 443.51L302.6 446.76L305.6 450.04L308.6 453.39L311.6 456.77L314.6 460.22L317.6 463.72L320.6 467.26L323.6 470.84L326.6 474.45L329.6 478.07L331.3 480.12" fill="none" stroke="#000" stroke-width="0.55" stroke-linejoin="round"/>
<path d="M86.1 340.9L88.4 338.69L90.3 337L92.7 341.4L96 344.3L98 342.48L99.9 340.9L102.3 343.3L105.7 345.2L108.6 341.4L111.5 345.7L113.9 343.3L115.8 343.8L117.7 347.2L119.9 342.3L121.6 346.2L123.5 345.7L125.4 348.1L129.3 347.4L132.2 346.2L134 346.62L136 347.2L138.9 349.1L142.3 347.2L146.7 349.6L148.4 349.5L150.5 348.6L152.9 351L156.3 351L158.7 350.3L161.1 351.5L164 352.4L165.2 352.51L167.6 352.27L170 353.51L172.4 353.7L174.8 354.2L177.2 354.85L179.6 355.45L182 356.42L184.4 356.88L186.8 357.4L189.2 357.91L191.6 358.75L194 360.26L196.4 361.68L198.8 362.5L201.2 363.7L203.6 365.11L206 366.1L208.4 367.66L210.8 369.18L213.2 370.66L215.6 372.04L218.6 374.02L221.6 375.97L224.6 378L227.6 379.92L230.6 382.05L233.6 384.07L236.6 386.21L239.6 388.5L242.6 390.8L245.6 393.2L248.6 395.59L251.6 398.01L254.6 400.53L257.6 403.04L260.6 405.63L263.6 408.25L266.6 410.93L269.6 413.66L272.6 416.43L275.6 419.26L278.6 422.14L281.6 425.06L284.6 428.02L287.6 431.03L290.6 434.08L293.6 437.18L296.6 440.32L299.6 443.52L302.6 446.75L305.6 450.04L308.6 453.39L311.6 456.78L314.6 460.22L317.6 463.72L320.6 467.26L323.6 470.84L326.6 474.45L329.6 478.07L331.3 480.12" fill="none" stroke="#f00" stroke-width="1.15" stroke-linejoin="round"/>
</g>
<g clip-path="url(#c4)">
<path d="M331.4 342.3L333.3 344.8L335.3 345.7L337.5 338.5L339.6 346.2L343.5 343.8L346.3 345.2L347.8 344.8L349.2 347.2L351.4 341.9L353.6 347.2L358.9 347.7L361.8 346.4L364.7 347.2L366.9 344.3L368.5 348.6L371.4 347.9L374.3 350.5L377.2 348.6L380.1 349.1L382.8 352.5L386.3 350.1L388.77 350.74L391.7 351.5L393.57 352.27L396.5 352L398.37 352.77L402.3 352.9L406.1 354.7L409 354.6L410.37 355.59L412.77 355.4L415.17 356.33L417.57 356.63L419.97 356.55L422.37 357.89L424.77 357.67L427.17 357.86L429.57 358.85L431.97 359.38L434.37 360.22L436.77 361.53L439.17 362L441.57 363.6L443.97 363.85L446.37 365.23L448.77 366.13L451.17 366.66L453.57 368.47L455.97 369.78L458.37 371.17" fill="none" stroke="#000" stroke-width="1.15" stroke-linejoin="round"/>
<path d="M458.37 371.17L460.77 372.04L463.77 374.21L466.77 376.05L469.77 377.7L472.77 379.86L475.77 382.03L478.77 383.93L481.77 386.33L484.77 388.43L487.77 390.88L490.77 393.29L493.77 395.59L496.77 398.07L499.77 400.47L502.77 403.04L505.77 405.62L508.77 408.28L511.77 410.93L514.77 413.67L517.77 416.43L520.77 419.25L523.77 422.14L526.77 425.06L529.77 428.02L532.77 431.04L535.77 434.08L538.77 437.19L541.77 440.33L544.77 443.51L547.77 446.76L550.77 450.05L553.77 453.38L556.77 456.79L559.77 460.22L562.77 463.72L565.77 467.25L568.77 470.85L571.77 474.45L574.77 478.06L576.47 480.12" fill="none" stroke="#000" stroke-width="0.55" stroke-linejoin="round"/>
<path d="M331.4 337.5L333.8 335.1L335.7 340.9L338.6 342.3L341 339.5L343.5 340.4L345.9 340.9L348.3 342.3L351.2 341.4L354.1 344.3L357 343.3L359.4 345.7L362.7 342.8L366.1 345.7L369.5 345.4L372.4 347.7L375.3 347.9L378.2 348.1L380.6 345.2L382.5 347.4L384.4 346.2L386.3 349.6L389.7 348.6L394.5 350.5L399.4 351.2L404.2 351.7L409 353L410.37 353.32L412.77 353.52L415.17 353.87L417.57 353.96L419.97 355.3L422.37 355.4L424.77 356.41L427.17 356.87L429.57 358.15L431.97 358.66L434.37 359.74L436.77 360.89L439.17 361.57L441.57 362.63L443.97 363.73L446.37 364.89L448.77 366.15L451.17 367.2L453.57 368.34L455.97 369.74L458.37 370.9L460.77 372.05L463.77 374.19L466.77 375.64L469.77 377.99L472.77 379.67L475.77 381.8L478.77 384.02L481.77 386.34L484.77 388.51L487.77 390.89L490.77 393.24L493.77 395.58L496.77 398.03L499.77 400.54L502.77 403.06L505.77 405.62L508.77 408.22L511.77 410.92L514.77 413.64L517.77 416.43L520.77 419.26L523.77 422.13L526.77 425.05L529.77 428.02L532.77 431.03L535.77 434.09L538.77 437.18L541.77 440.33L544.77 443.52L547.77 446.75L550.77 450.05L553.77 453.38L556.77 456.78L559.77 460.22L562.77 463.71L565.77 467.27L568.77 470.85L571.77 474.46L574.77 478.06L576.47 480.11" fill="none" stroke="#f00" stroke-width="1.15" stroke-linejoin="round"/>
</g>
<g clip-path="url(#c5)">
<path d="M576.4 346.4L577.9 348.8L579.8 352.7L582.7 354.6L585.1 353.1L586.5 346.4L588.5 354.1L590.4 349.8L592.3 352.7L594.2 349.3L596.7 352.7L598.6 350.2L600.5 353.6L604.4 351L606.8 355.3L610.1 352.7L612.1 352L614 354.9L617.13 353.79L619.3 354.1L621.7 357.5L623.6 354.6L625.6 357.2L629.4 355.1L631.8 358L633.93 357.58L636.7 357L638.73 357.49L641.5 357.8L644.4 358.7L648.2 359.4L651.1 358.9L654 359.4L655.53 359.29L657.93 359.78L660.33 361.08L662.73 360.48L665.13 361.3L667.53 361.37L669.93 362.28L672.33 362.79L674.73 363.45L677.13 363.92L679.53 363.66L681.93 364.35L684.33 364.93L686.73 365.65L689.13 366.62L691.53 367.29L693.93 367.9L696.33 368.83L698.73 370.7L701.13 370.56L703.53 372.39L705.93 372.71L708.93 374.15" fill="none" stroke="#000" stroke-width="1.15" stroke-linejoin="round"/>
<path d="M708.93 374.15L711.93 375.79L714.93 377.48L717.93 379.37L720.93 381.35L723.93 383.51L726.93 385.75L729.93 387.99L732.93 390.17L735.93 392.44L738.93 394.69L741.93 397.12L744.93 399.38L747.93 401.96L750.93 404.54L753.93 407.15L756.93 409.84L759.93 412.58L762.93 415.4L765.93 418.23L768.93 421.15L771.93 424.11L774.93 427.14L777.93 430.2L780.93 433.33L783.93 436.49L786.93 439.71L789.93 442.97L792.93 446.3L795.93 449.68L798.93 453.12L801.93 456.63L804.93 460.17L807.93 463.78L810.93 467.45L813.93 471.15L816.93 474.87L819.93 478.61L821.63 480.72" fill="none" stroke="#000" stroke-width="0.55" stroke-linejoin="round"/>
<path d="M576.4 343L579.8 345.4L582.7 345.2L585.1 346.6L586.5 344.9L588.5 345.4L590.4 344.7L592.8 348.8L596.2 347.3L598.1 348.8L600 347.3L602 348.3L604.4 347.5L606.8 349.3L608.2 348.8L610.6 351.7L612.6 349.8L615.4 350.7L617.13 351.56L619.3 352L621.7 351.7L623.6 350.2L625.6 355.1L627.5 352.7L629.9 354.1L633.8 353.9L637.1 353.3L640.5 354.6L643.4 354.6L646.3 356.5L648.33 356.1L650.1 356L654.8 357.5L659.6 359.5L662.73 359.23L664.5 358.5L666.4 360.4L669.93 360.43L672.2 360.6L674.73 360.48L677.13 361.99L679.53 362.22L681.93 363.47L684.33 364.33L686.73 365.37L689.13 365.7L691.53 366.39L693.93 367.6L696.33 368.57L698.73 368.92L701.13 370.36L703.53 371.35L705.93 372.8L708.93 374.15L711.93 375.75L714.93 377.52L717.93 379.36L720.93 381.26L723.93 383.48L726.93 385.77L729.93 387.92L732.93 390.13L735.93 392.43L738.93 394.72L741.93 397.04L744.93 399.47L747.93 402L750.93 404.53L753.93 407.14L756.93 409.85L759.93 412.6L762.93 415.36L765.93 418.23L768.93 421.16L771.93 424.12L774.93 427.15L777.93 430.21L780.93 433.34L783.93 436.48L786.93 439.71L789.93 442.97L792.93 446.29L795.93 449.68L798.93 453.12L801.93 456.63L804.93 460.17L807.93 463.78L810.93 467.44L813.93 471.15L816.93 474.87L819.93 478.61L821.63 480.73" fill="none" stroke="#f00" stroke-width="1.15" stroke-linejoin="round"/>
</g>
<g clip-path="url(#c6)">
<path d="M86.1 597L88.3 593.1L92.2 592.4L96 595.8L98 595.11L101.8 594.9L103.8 598.7L106.2 594.6L110 597.2L112.4 598.23L114.8 598L117.7 598.9L119.9 595.8L123.5 601.6L125.4 599.4L127.2 601.3L129.3 599.9L133.2 600.7L138 601.3L141.3 600.8L143.3 603.5L146.7 602.3L148.4 603.59L150.5 602L153.4 603.5L155.6 604.04L158.2 604.5L162.1 605.7L164 605.3L167.6 606.49L169.6 605.9L172.4 604.99L176.4 607.8L177.8 606.9L179.6 607.4L182 608.49L184.1 608.8L186.8 609.53L189.2 609.89L191.6 610.87L194 611.03L196.4 611.19L198.8 612.7L201.2 612.97L203.6 613.38L206 614.55L208.4 615.42L210.8 616.4L213.2 617.09L215.6 618.12L218.6 619.59L221.6 621.2L224.6 622.73" fill="none" stroke="#000" stroke-width="1.15" stroke-linejoin="round"/>
<path d="M224.6 622.73L227.6 624.86L230.6 626.5L233.6 628.62L236.6 630.81L239.6 633.2L242.6 635.64L245.6 638.1L248.6 640.59L251.6 643.17L254.6 645.71L257.6 648.24L260.6 650.85L263.6 653.46L266.6 656.11L269.6 658.82L272.6 661.61L275.6 664.41L278.6 667.3L281.6 670.23L284.6 673.18L287.6 676.2L290.6 679.25L293.6 682.35L296.6 685.5L299.6 688.68L302.6 691.92L305.6 695.22L308.6 698.56L311.6 701.94L314.6 705.38L317.6 708.88L320.6 712.42L323.6 716.01L326.6 719.62L329.6 723.23L331.3 725.28" fill="none" stroke="#000" stroke-width="0.55" stroke-linejoin="round"/>
<path d="M86.1 583L88.3 581.1L90.3 585.4L93.2 589.3L95.6 586.9L98 585.9L100.9 588.3L103.8 592.2L105.7 588.3L107.6 590.46L109.5 591.4L112.9 589.8L115.8 590.4L118.2 592.2L122.6 592L125.9 592.2L127.4 594.3L129.2 594.26L131.2 593.6L134.1 594.6L136.4 594.82L138.9 594.1L141.8 596L143.6 596.94L145.7 598.1L148.4 597.3L150.5 597.5L154.4 599.4L159.2 600.8L162.8 600.22L164.8 600.1L167.6 601.45L169.6 602.5L172.4 602.52L174.8 602.8L177.2 603.58L179.6 604.63L182 605.06L184.4 605.67L186.8 607.01L189.2 607.31L191.6 607.9L194 608.97L196.4 609.3L198.8 610.45L201.2 611.18L203.6 612.21L206 613.26L208.4 614.06L210.8 615.35L213.2 616.28L215.6 617.59L218.6 619.15L221.6 620.57L224.6 622.42L227.6 624.46L230.6 626.46L233.6 628.65L236.6 630.81L239.6 633.08L242.6 635.62L245.6 638.15L248.6 640.62L251.6 643.18L254.6 645.69L257.6 648.27L260.6 650.84L263.6 653.44L266.6 656.12L269.6 658.83L272.6 661.61L275.6 664.43L278.6 667.28L281.6 670.22L284.6 673.19L287.6 676.2L290.6 679.25L293.6 682.34L296.6 685.49L299.6 688.68L302.6 691.91L305.6 695.21L308.6 698.55L311.6 701.94L314.6 705.39L317.6 708.89L320.6 712.43L323.6 716.01L326.6 719.62L329.6 723.23L331.3 725.28" fill="none" stroke="#f00" stroke-width="1.15" stroke-linejoin="round"/>
<path d="M86 582.5L88 583.05L90 583.59L92 584.12L94 584.62L96 585.09L98 585.52L100 585.91L102 586.26L104 586.57L106 586.86L108 587.14L110 587.42L112 587.73L114 588.06L116 588.43L118 588.85L120 589.31L122 589.81L124 590.33L126 590.85L128 591.38L130 591.89L132 592.37L134 592.82L136 593.24L138 593.62L140 593.99L142 594.33L144 594.67L146 595L148 595.32L150 595.64L152 595.96L154 596.28L156 596.61L158 596.97L160 597.35L162 597.77L164 598.22L166 598.69L168 599.18L170 599.68L172 600.18L174 600.68L176 601.18L178 601.68L180 602.19L182 602.7L184 603.24L186 603.8L188 604.41L190 605.06L192 605.76L194 606.5L196 607.29L198 608.12L200 608.98L202 609.87L204 610.8L206 611.77L208 612.78L210 613.84L212 614.94L214 616.08L216 617.25L218 618.43L220 619.64L222 620.86L224 622.09L226 623.36L228 624.65L230 625.99L232 627.37L234 628.81L236 630.3L238 631.85L240 633.44L242 635.07L244 636.74L246 638.42L248 640.11L250 641.81L252 643.51L254 645.2L256 646.9L258 648.61L260 650.32L262 652.05L264 653.8L266 655.57L268 657.37L270 659.19L272 661.04L274 662.91L276 664.81L278 666.72L280 668.66L282 670.62L284 672.59L286 674.59L288 676.6L290 678.64L292 680.69L294 682.76L296 684.86L298 686.97L300 689.11L302 691.27L304 693.45L306 695.65L308 697.88L310 700.13L312 702.4L314 704.69L316 707.01L318 709.35L320 711.72L322 714.1L324 716.49L326 718.9L328 721.31L330 723.72L331.3 725.28" fill="none" stroke="#f00" stroke-width="0.72" stroke-linejoin="round" stroke-dasharray="1.9 2.17"/>
</g>
<g clip-path="url(#c7)">
<path d="M331.4 588.9L333.3 588.4L335.3 592.3L337.5 588.7L340.77 588.93L342.5 589.9L345.4 592.3L347.1 588.9L348.8 593.5L353.1 590.1L355.5 591L357.57 591.26L359.8 591.6L362.7 593.3L364.9 591.3L367.1 593.9L369.57 593.9L371.4 594.7L374.3 593.9L376.7 596.4L380.1 595.5L383.9 596.4L386.3 595.7L388.8 597.1L391.17 596.91L394.5 597.1L398.4 598.4L400.77 598.9L404.2 599.3L409 599.8L410.37 599.9L412.77 600.02L415.17 601.47L417.57 601.2L419.97 601.99L422.37 603.07L424.77 604.17L427.17 604.46L429.57 605.39L431.97 606.29L434.37 606.83L436.77 607.26L439.17 608.62L441.57 610.1L443.97 609.77L446.37 611.09L448.77 611.85L451.17 612.79L453.57 614.79L455.97 615.68L458.37 617.23L460.77 618.15L463.77 619.94L466.77 621.2L469.77 623.19L472.77 625.14L475.77 627L478.77 629.22L481.77 631.49L484.77 633.74L487.77 635.94L490.77 638.29L493.77 640.63" fill="none" stroke="#000" stroke-width="1.15" stroke-linejoin="round"/>
<path d="M493.77 640.63L496.77 643.07L499.77 645.5L502.77 648L505.77 650.63L508.77 653.31L511.77 655.99L514.77 658.81L517.77 661.63L520.77 664.47L523.77 667.34L526.77 670.24L529.77 673.19L532.77 676.2L535.77 679.25L538.77 682.34L541.77 685.49L544.77 688.69L547.77 691.92L550.77 695.21L553.77 698.56L556.77 701.94L559.77 705.39L562.77 708.88L565.77 712.44L568.77 716.01L571.77 719.62L574.77 723.24L576.47 725.28" fill="none" stroke="#000" stroke-width="0.95" stroke-linejoin="round"/>
<path d="M331.4 571.1L333.3 570.1L335.3 567.2L337.5 572.3L339.6 568.5L341.5 571.6L343.5 571.8L345.9 569.8L348.3 571.6L351.2 574.7L354.1 572.5L357 574.5L360.8 574.9L365.1 575.4L367.17 576.64L369.5 577.3L372.4 578.5L374.3 577.3L376.77 578.67L379.17 577.79L381 579.8L383.97 580.47L386.8 581.2L388.77 582.39L390.7 582.9L394.5 583.1L399.4 584.1L404.2 586.2L409 587.8L410.37 587.68L412.77 589.07L415.17 589.88L417.57 591.35L419.97 591.82L422.37 592.92L424.77 594.06L427.17 595.04L429.57 597.03L431.97 597.77L434.37 599.05L436.77 600.15L439.17 601.92L441.57 602.74L443.97 604.58L446.37 606.08L448.77 607.62L451.17 609.01L453.57 610.89L455.97 612.04L458.37 613.82L460.77 615.44L463.77 617.37L466.77 619.49L469.77 621.87L472.77 624.1L475.77 626.22L478.77 628.65L481.77 630.97L484.77 633.46L487.77 635.73L490.77 638.14L493.77 640.57L496.77 642.98L499.77 645.42L502.77 647.99L505.77 650.57L508.77 653.26L511.77 656L514.77 658.84L517.77 661.65L520.77 664.48L523.77 667.37L526.77 670.3L529.77 673.31L532.77 676.34L535.77 679.42L538.77 682.57L541.77 685.77L544.77 689.01L547.77 692.32L550.77 695.67L553.77 699.06L556.77 702.5L559.77 706L562.77 709.55L565.77 713.14L568.77 716.78L571.77 720.44L574.77 724.11L576.47 726.19" fill="none" stroke="#f00" stroke-width="1.15" stroke-linejoin="round"/>
</g>
<g clip-path="url(#c8)">
<path d="M576.33 558.9L578.33 559.49L580.33 560.07L582.33 560.67L584.33 561.27L586.33 561.9L588.33 562.54L590.33 563.21L592.33 563.91L594.33 564.62L596.33 565.35L598.33 566.08L600.33 566.82L602.33 567.55L604.33 568.28L606.33 568.99L608.33 569.7L610.33 570.41L612.33 571.12L614.33 571.84L616.33 572.57L618.33 573.32L620.33 574.08L622.33 574.86L624.33 575.67L626.33 576.49L628.33 577.32L630.33 578.18L632.33 579.04L634.33 579.92L636.33 580.82L638.33 581.72L640.33 582.64L642.33 583.57L644.33 584.51L646.33 585.45L648.33 586.4L650.33 587.36L652.33 588.31L654.33 589.28L656.33 590.24L658.33 591.22L660.33 592.22L662.33 593.22L664.33 594.24L666.33 595.28L668.33 596.34L670.33 597.4L672.33 598.49L674.33 599.58L676.33 600.68L678.33 601.8L680.33 602.92L682.33 604.05L684.33 605.19L686.33 606.34L688.33 607.5L690.33 608.67L692.33 609.86L694.33 611.06L696.33 612.26L698.33 613.47L700.33 614.68L702.33 615.9L704.33 617.14L706.33 618.4L708.33 619.7L710.33 621.03L712.33 622.39L714.33 623.77L716.33 625.17L718.33 626.57L720.33 627.99L722.33 629.41L724.33 630.84L726.33 632.28L728.33 633.75L730.33 635.25L732.33 636.77L734.33 638.31L736.33 639.89L738.33 641.48L740.33 643.1L742.33 644.73L744.33 646.38L746.33 648.05L748.33 649.74L750.33 651.44L752.33 653.15L754.33 654.88L756.33 656.63L758.33 658.39L760.33 660.16L762.33 661.96L764.33 663.78L766.33 665.62L768.33 667.48L770.33 669.37L772.33 671.28L774.33 673.22L776.33 675.19L778.33 677.19L780.33 679.22L782.33 681.27L784.33 683.34L786.33 685.44L788.33 687.56L790.33 689.7L792.33 691.86L794.33 694.05L796.33 696.25L798.33 698.48L800.33 700.73L802.33 703L804.33 705.29L806.33 707.61L808.33 709.95L810.33 712.32L812.33 714.7L814.33 717.09L816.33 719.5L818.33 721.91L820.33 724.32L821.63 725.88" fill="none" stroke="#000" stroke-width="0.75" stroke-linejoin="round" stroke-dasharray="2 2.05"/>
<path d="M576.7 588L578.8 589L580.3 591.9L582.7 589.9L585.6 589.3L586.5 586.8L588.9 588L591.3 589.5L594.2 587.5L596.2 590.9L598.6 590.2L601.5 591.4L604.4 589.7L608.2 593.5L610.1 591.6L612.1 594.1L614.73 594.26L617.13 594.05L619.3 593.8L621.7 595.2L623.6 594.5L628 595.7L629.4 597.2L631.3 595.2L633.93 595.81L635.7 596.4L639.5 598.1L641.5 597L643.53 597.58L645.3 598.6L647.3 597.9L650.1 599.1L654 599.6L655.53 600.3L657.93 600.26L660.33 600.9L662.73 601.26L665.13 602.12L667.53 602.58L669.93 603.23L672.33 603.95L674.73 604.44L677.13 605.48L679.53 606.24L681.93 607.11L684.33 607.75L686.73 608.54L689.13 609.53L691.53 610.39L693.93 611.35L696.33 612.46L698.73 613.5L701.13 614.81L703.53 616.12L705.93 617.61L708.93 619.43L711.93 621.3L714.93 623.39L717.93 625.46L720.93 627.57L723.93 629.73L726.93 631.81L729.93 634.09L732.93 636.32L735.93 638.62L738.93 641.03L741.93 643.48L744.93 645.98L747.93 648.53L750.93 651.12L753.93 653.77L756.93 656.44L759.93 659.15L762.93 661.84L765.93 664.62L768.93 667.43L771.93 670.28L774.93 673.22L777.93 676.18L780.93 679.23L783.93 682.32L786.93 685.49L789.93 688.67L792.93 691.91L795.93 695.22L798.93 698.56L801.93 701.93L804.93 705.38L807.93 708.88L810.93 712.42L813.93 716.02L816.93 719.62L819.93 723.24L821.63 725.28" fill="none" stroke="#000" stroke-width="1.15" stroke-linejoin="round"/>
<path d="M576.7 544.6L578.8 538.9L580.3 546.6L582.7 549L585.1 543.2L586.5 549.5L588.9 550.9L591.8 551.9L594.2 555L596 549.5L597.6 550.9L600 552.8L602 547L603.9 549.9L606.3 551.9L608.2 557.7L610.1 558.1L612.1 554.8L615.4 557.7L617.13 557.75L619.3 559.1L621.7 560.3L623.4 557.9L626 563L628.9 563.7L631.8 565.4L634.2 563.9L637.6 568.3L640 566.6L643.4 570.2L647.3 572.6L651.1 575L653.13 576.37L655.53 576.06L657.93 577.88L660.33 580.19L662.73 579.18L665.13 581.95L667.53 583.08L669.93 585.26L672.33 587.47L674.73 590.86L677.13 589.56L679.53 592.44L681.93 594.64L684.33 598L686.73 599.02L689.13 599.72L691.53 601.42L693.93 604.41L696.33 606.6L698.73 607.54L701.13 609.53L703.53 610.83L705.93 614.12L708.93 616.17L711.93 617.47L714.93 620.11L717.93 621.9L720.93 625.58L723.93 627.72L726.93 630.25L729.93 632.92L732.93 636L735.93 637.39L738.93 640.47L741.93 643.3L744.93 645.71L747.93 648.77L750.93 650.93L753.93 653.68L756.93 656.31L759.93 659.06L762.93 661.86L765.93 665.46L768.93 668.03L771.93 670.59L774.93 673.89L777.93 676.75L780.93 680.08L783.93 683.22L786.93 686.27L789.93 689.61L792.93 693.06L795.93 696.49L798.93 700.01L801.93 703.37L804.93 706.98L807.93 710.48L810.93 714.17L813.93 717.91L816.93 721.6L819.93 725.32L821.63 727.28" fill="none" stroke="#0000ff" stroke-width="1.25" stroke-linejoin="round"/>
<path d="M576.7 554.3L578.73 556.02L580.7 556.7L584.6 558.1L588.5 556.2L590.73 557L593.3 558.6L595.53 558.82L599.1 560.3L602.9 562.2L605.8 561L607.53 561.86L610.6 563.9L612.33 564.98L616.4 566.3L619.53 567.24L621.93 567.51L624.1 567.8L626.73 568.83L629.13 569.42L631.8 570.2L633.93 570.99L636.33 571.44L638.73 572.45L641.5 573.6L643.53 574.48L645.93 575.57L648.33 576.72L650.73 577.94L653.13 579.21L655.53 580.52L657.93 581.87L660.33 583.26L662.73 584.67L665.13 586.1L667.53 587.57L669.93 589.07L672.33 590.61L674.73 592.17L677.13 593.76L679.53 595.37L681.93 597L684.33 598.65L686.73 600.3L689.13 601.95L691.53 603.61L693.93 605.27L696.33 606.95L698.73 608.66L701.13 610.39L703.53 612.15L705.93 613.95L708.93 616.23L711.93 618.54L714.93 620.88L717.93 623.23L720.93 625.6L723.93 627.97L726.93 630.37L729.93 632.82L732.93 635.3L735.93 637.82L738.93 640.39L741.93 642.98L744.93 645.61L747.93 648.27L750.93 650.96L753.93 653.68L756.93 656.42L759.93 659.2L762.93 662.02L765.93 664.87L768.93 667.78L771.93 670.74L774.93 673.76L777.93 676.85L780.93 679.99L783.93 683.18L786.93 686.43L789.93 689.73L792.93 693.07L795.93 696.46L798.93 699.9L801.93 703.4L804.93 706.94L807.93 710.54L810.93 714.18L813.93 717.86L816.93 721.57L819.93 725.29L821.63 727.39" fill="none" stroke="#f00" stroke-width="0.8" stroke-linejoin="round" stroke-dasharray="7 3"/>
<path d="M576.7 546.1L579.8 545.6L583.6 547.5L587.5 548.5L591.3 548.5L593.13 549.23L595.2 550.6L599.1 551.6L602.9 552.8L606.8 554.3L610.6 554.3L612.33 555.29L614.5 556.7L618.3 557.9L622.2 558.6L626 561L629.9 563.1L633.8 563.9L637.6 565.8L641.5 567.3L643.53 568.74L645.3 570.2L649.2 572.4L654 575.4L655.53 576.29L657.93 577.7L660.33 579.17L662.73 580.72L665.13 582.35L667.53 584.07L669.93 585.87L672.33 587.71L674.73 589.58L677.13 591.44L679.53 593.26L681.93 595.03L684.33 596.77L686.73 598.51L689.13 600.28L691.53 602.11L693.93 603.98L696.33 605.89L698.73 607.82L701.13 609.75L703.53 611.67L705.93 613.59L708.93 615.99L711.93 618.38L714.93 620.76L717.93 623.14L720.93 625.53L723.93 627.93L726.93 630.35L729.93 632.81L732.93 635.3L735.93 637.84L738.93 640.4L741.93 643L744.93 645.63L747.93 648.28L750.93 650.97L753.93 653.68L756.93 656.42L759.93 659.2L762.93 662.02L765.93 664.87L768.93 667.78L771.93 670.74L774.93 673.76L777.93 676.85L780.93 679.99L783.93 683.18L786.93 686.43L789.93 689.73L792.93 693.07L795.93 696.46L798.93 699.9L801.93 703.4L804.93 706.94L807.93 710.54L810.93 714.18L813.93 717.86L816.93 721.57L819.93 725.29L821.63 727.39" fill="none" stroke="#f00" stroke-width="1.15" stroke-linejoin="round"/>
</g>
<path d="M86 30.4L86 767.1" stroke="#2a2a2a" stroke-width="1.25" fill="none"/>
<path d="M331.17 30.4L331.17 767.1" stroke="#000" stroke-width="1.55" fill="none"/>
<path d="M576.33 30.4L576.33 767.1" stroke="#000" stroke-width="1.55" fill="none"/>
<path d="M821.5 30.4L821.5 767.1" stroke="#000" stroke-width="1.3" fill="none"/>
<path d="M85.4 31L822.1 31" stroke="#2a2a2a" stroke-width="1.25" fill="none"/>
<path d="M85.4 276.17L822.1 276.17" stroke="#000" stroke-width="1.3" fill="none"/>
<path d="M85.4 521.33L822.1 521.33" stroke="#000" stroke-width="1.3" fill="none"/>
<path d="M85.4 766.5L822.1 766.5" stroke="#000" stroke-width="1.3" fill="none"/>
<text x="459.6" y="19.7" font-family='"Liberation Serif", serif' font-size="27.7" text-anchor="middle" fill="#000">MUESLI Computations, 2D Density</text>
<text x="465.8" y="837.3" font-family='"Liberation Serif", serif' font-size="27.7" text-anchor="middle" fill="#000">R[NBODY]</text>
<text transform="translate(20.3 400.6) rotate(-90)" font-family='"Liberation Serif", serif' font-size="28.2" text-anchor="middle" fill="#000">ρ[NBODY]</text>
<text x="68.6" y="41.2" font-family='"Liberation Serif", serif' font-size="30.5" text-anchor="end" fill="#000" letter-spacing="-0.7">100</text>
<text x="68.6" y="102.49" font-family='"Liberation Serif", serif' font-size="30.5" text-anchor="end" fill="#000" letter-spacing="-0.7">10</text>
<text x="67.3" y="163.78" font-family='"Liberation Serif", serif' font-size="30.5" text-anchor="end" fill="#000" letter-spacing="-0.7">1</text>
<text x="67.3" y="225.07" font-family='"Liberation Serif", serif' font-size="30.5" text-anchor="end" fill="#000" letter-spacing="-0.7">0.1</text>
<text x="67.3" y="286.37" font-family='"Liberation Serif", serif' font-size="30.5" text-anchor="end" fill="#000" letter-spacing="-0.7">0.01</text>
<text x="68.6" y="347.66" font-family='"Liberation Serif", serif' font-size="30.5" text-anchor="end" fill="#000" letter-spacing="-0.7">10</text>
<text x="67.3" y="408.95" font-family='"Liberation Serif", serif' font-size="30.5" text-anchor="end" fill="#000" letter-spacing="-0.7">1</text>
<text x="67.3" y="470.24" font-family='"Liberation Serif", serif' font-size="30.5" text-anchor="end" fill="#000" letter-spacing="-0.7">0.1</text>
<text x="67.3" y="531.53" font-family='"Liberation Serif", serif' font-size="30.5" text-anchor="end" fill="#000" letter-spacing="-0.7">0.01</text>
<text x="68.6" y="592.82" font-family='"Liberation Serif", serif' font-size="30.5" text-anchor="end" fill="#000" letter-spacing="-0.7">10</text>
<text x="67.3" y="654.12" font-family='"Liberation Serif", serif' font-size="30.5" text-anchor="end" fill="#000" letter-spacing="-0.7">1</text>
<text x="67.3" y="715.41" font-family='"Liberation Serif", serif' font-size="30.5" text-anchor="end" fill="#000" letter-spacing="-0.7">0.1</text>
<text x="67.3" y="776.7" font-family='"Liberation Serif", serif' font-size="30.5" text-anchor="end" fill="#000" letter-spacing="-0.7">0.01</text>
<text x="136.11" y="806" font-family='"Liberation Serif", serif' font-size="30.5" text-anchor="middle" fill="#000" letter-spacing="-0.7">0.01</text>
<text x="232.29" y="806" font-family='"Liberation Serif", serif' font-size="30.5" text-anchor="middle" fill="#000" letter-spacing="-0.7">0.1</text>
<text x="331.17" y="806" font-family='"Liberation Serif", serif' font-size="30.5" text-anchor="middle" fill="#000" letter-spacing="-0.7">1</text>
<text x="381.28" y="806" font-family='"Liberation Serif", serif' font-size="30.5" text-anchor="middle" fill="#000" letter-spacing="-0.7">0.01</text>
<text x="477.46" y="806" font-family='"Liberation Serif", serif' font-size="30.5" text-anchor="middle" fill="#000" letter-spacing="-0.7">0.1</text>
<text x="576.33" y="806" font-family='"Liberation Serif", serif' font-size="30.5" text-anchor="middle" fill="#000" letter-spacing="-0.7">1</text>
<text x="626.45" y="806" font-family='"Liberation Serif", serif' font-size="30.5" text-anchor="middle" fill="#000" letter-spacing="-0.7">0.01</text>
<text x="722.62" y="806" font-family='"Liberation Serif", serif' font-size="30.5" text-anchor="middle" fill="#000" letter-spacing="-0.7">0.1</text>
<text x="821.5" y="806" font-family='"Liberation Serif", serif' font-size="30.5" text-anchor="middle" fill="#000" letter-spacing="-0.7">1</text>
<text x="322.67" y="49.5" font-family='"Liberation Serif", serif' font-size="17.5" text-anchor="end" fill="#000">Model 1</text>
<text x="223.5" y="73.7" font-family='"Liberation Serif", serif' font-size="17.5" text-anchor="start" fill="#000">Δγ=0.00±0.02</text>
<text x="567.83" y="49.5" font-family='"Liberation Serif", serif' font-size="17.5" text-anchor="end" fill="#000">Model 2</text>
<text x="459.17" y="73.7" font-family='"Liberation Serif", serif' font-size="17.5" text-anchor="start" fill="#000">Δγ=-0.01±0.02</text>
<text x="813" y="49.5" font-family='"Liberation Serif", serif' font-size="17.5" text-anchor="end" fill="#000">Model 3</text>
<text x="704.33" y="73.7" font-family='"Liberation Serif", serif' font-size="17.5" text-anchor="start" fill="#000">Δγ=0.01±0.02</text>
<text x="322.67" y="294.67" font-family='"Liberation Serif", serif' font-size="17.5" text-anchor="end" fill="#000">Model 4</text>
<text x="214" y="318.87" font-family='"Liberation Serif", serif' font-size="17.5" text-anchor="start" fill="#000">Δγ=0.00±0.02</text>
<text x="567.83" y="294.67" font-family='"Liberation Serif", serif' font-size="17.5" text-anchor="end" fill="#000">Model 5</text>
<text x="468.67" y="318.87" font-family='"Liberation Serif", serif' font-size="17.5" text-anchor="start" fill="#000">Δγ=0.05±0.02</text>
<text x="813" y="294.67" font-family='"Liberation Serif", serif' font-size="17.5" text-anchor="end" fill="#000">Model 6</text>
<text x="713.83" y="318.87" font-family='"Liberation Serif", serif' font-size="17.5" text-anchor="start" fill="#000">Δγ=0.05±0.01</text>
<text x="322.67" y="539.83" font-family='"Liberation Serif", serif' font-size="17.5" text-anchor="end" fill="#000">Model 7</text>
<text x="223.5" y="564.03" font-family='"Liberation Serif", serif' font-size="17.5" text-anchor="start" fill="#000">Δγ=0.09±0.01</text>
<text x="567.83" y="539.83" font-family='"Liberation Serif", serif' font-size="17.5" text-anchor="end" fill="#000">Model 8</text>
<text x="468.67" y="564.03" font-family='"Liberation Serif", serif' font-size="17.5" text-anchor="start" fill="#000">Δγ=0.22±0.02</text>
<text x="813" y="539.83" font-family='"Liberation Serif", serif' font-size="17.5" text-anchor="end" fill="#000">Model 9</text>
<text x="713.83" y="564.03" font-family='"Liberation Serif", serif' font-size="17.5" text-anchor="start" fill="#000">Δγ=0.52±0.02</text>
<text x="216.6" y="242.6" font-family='"Liberation Serif", serif' font-size="16.2" text-anchor="end" fill="#000">no adiab. growth</text>
<text x="216.6" y="262.8" font-family='"Liberation Serif", serif' font-size="16.2" text-anchor="end" fill="#000">with adiab. growth</text>
<line x1="233.9" y1="237.5" x2="308.9" y2="237.5" stroke="#000" stroke-width="0.85"/>
<line x1="233.9" y1="257.5" x2="308.9" y2="257.5" stroke="#f00" stroke-width="0.85"/>
<text x="98" y="757.7" font-family='"Liberation Serif", serif' font-size="16" text-anchor="start" fill="#000">with PU</text>
<line x1="168.1" y1="752.5" x2="243.4" y2="752.5" stroke="#f00" stroke-width="0.75" stroke-dasharray="2 2.07"/>
<text x="718.8" y="726.7" font-family='"Liberation Serif", serif' font-size="12.25" text-anchor="end" fill="#000">Sersic n=4</text>
<text x="718.8" y="738.9" font-family='"Liberation Serif", serif' font-size="12.25" text-anchor="end" fill="#000">Phoenix BCG mass</text>
<text x="718.8" y="750.6" font-family='"Liberation Serif", serif' font-size="12.25" text-anchor="end" fill="#000">Model 9 (NB6)</text>
<line x1="736" y1="723.5" x2="811.6" y2="723.5" stroke="#000" stroke-width="0.7" stroke-dasharray="2 2.05"/>
<line x1="736" y1="735.5" x2="811.6" y2="735.5" stroke="#f00" stroke-width="0.7" stroke-dasharray="7 3"/>
<line x1="736" y1="747.0" x2="811.6" y2="747.0" stroke="#0000ff" stroke-width="1.3"/>
</svg>
</body></html>
